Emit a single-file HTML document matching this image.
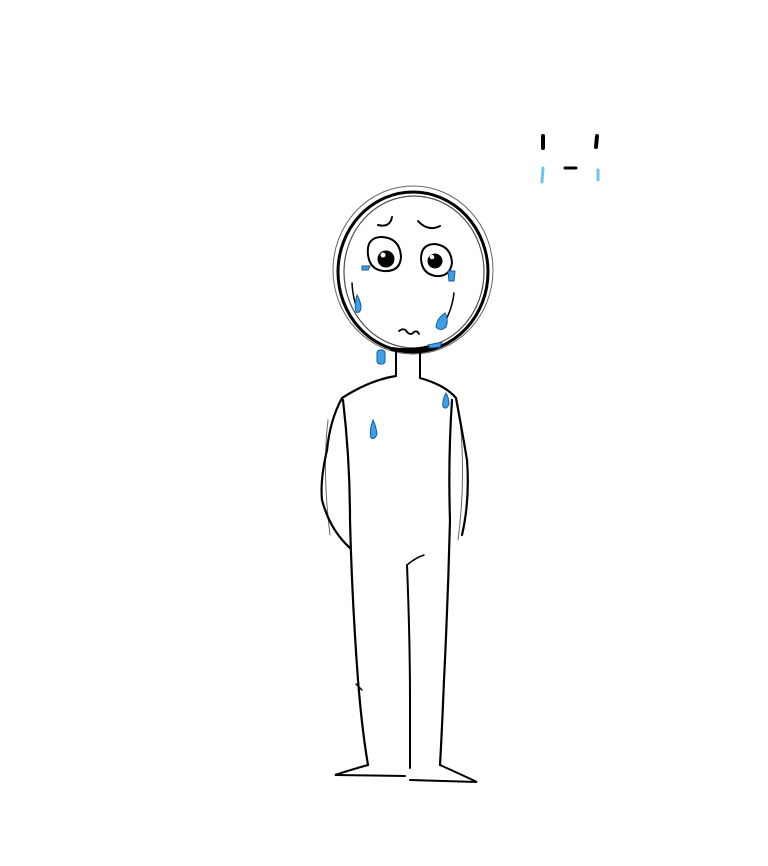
<!DOCTYPE html>
<html><head><meta charset="utf-8"><style>html,body{margin:0;padding:0;background:#fff}svg{display:block}</style></head>
<body>
<svg width="768" height="866" viewBox="0 0 768 866" xmlns="http://www.w3.org/2000/svg">
<rect width="768" height="866" fill="#fff"/>
<g fill="none" stroke="#000" stroke-linecap="round">
<!-- head -->
<ellipse cx="413" cy="272" rx="75" ry="80" stroke-width="3"/>
<ellipse cx="413" cy="270" rx="80" ry="84" stroke-width="1" opacity="0.6"/>
<ellipse cx="414" cy="272" rx="70" ry="76" stroke-width="1.2" opacity="0.7"/>
<!-- brows -->
<path d="M378 225 Q390 228 392 217" stroke-width="2"/>
<path d="M418 221 Q428 232 440 226" stroke-width="2"/>
<!-- eyes -->
<path d="M368 255 Q366 237 382 237 Q400 238 401 257 Q400 272 384 271 Q370 270 368 255" stroke-width="2"/>
<circle cx="386" cy="259" r="8" fill="#000"/><circle cx="383" cy="255" r="2.5" fill="#fff" stroke="none"/>
<path d="M421 259 Q421 244 435 244 Q451 246 452 263 Q450 277 436 276 Q422 274 421 259" stroke-width="2"/>
<circle cx="435" cy="261" r="7" fill="#000"/><circle cx="432" cy="257" r="2.3" fill="#fff" stroke="none"/>
<!-- mouth -->
<path d="M399 331 Q404 327 407 332 Q411 336 414 332 Q417 330 419 334" stroke-width="1.8"/>
<!-- cheek lines -->
<path d="M352 283 Q353 300 358 310" stroke-width="1.5"/>
<path d="M454 293 Q452 310 444 323" stroke-width="1.5"/>
<!-- neck -->
<path d="M396 350 L396 376" stroke-width="2"/>
<path d="M420 350 L420 378" stroke-width="2"/>
<path d="M392 349 Q410 352 430 347" stroke-width="4"/>
<!-- body -->
<path d="M396 376 Q370 380 342 398 Q330 420 327 450 Q320 480 322 500 Q330 530 350 548" stroke-width="2.2"/>
<path d="M420 378 Q445 385 456 398 Q462 430 467 460 Q470 500 462 535" stroke-width="2.2"/>
<path d="M343 400 Q350 460 350 520 Q352 600 358 680 Q362 730 368 765" stroke-width="2.2"/>
<path d="M452 400 Q448 460 450 520 Q448 600 444 680 Q442 730 440 765" stroke-width="2.2"/>
<path d="M407 565 Q410 640 410 700 Q410 740 410 768" stroke-width="2"/>
<path d="M407 565 Q415 558 424 555" stroke-width="1.5"/>
<path d="M368 765 Q350 770 335 775 L405 776" stroke-width="2"/>
<path d="M440 765 Q460 774 477 782 L410 780" stroke-width="2"/>
<path d="M356 684 L362 690" stroke-width="1.5"/>
<path d="M328 420 Q322 470 330 535" stroke-width="1" opacity="0.6"/>
<path d="M460 420 Q466 480 458 540" stroke-width="1" opacity="0.6"/>
<!-- small face top right -->
<path d="M543 136 L543 148" stroke-width="4"/>
<path d="M597 136 L596 147" stroke-width="4"/>
<path d="M565 168 L576 168" stroke-width="3"/>
</g>
<g fill="#3aa0e8" stroke="#1a5a9a" stroke-width="1">
<path d="M357 295 Q354 305 356 312 Q361 314 361 306 Q360 300 357 295Z"/>
<path d="M445 313 Q437 318 436 327 Q440 332 446 327 Q449 320 445 313Z"/>
<path d="M362 266 L370 266 L368 270 L362 270Z"/>
<path d="M448 271 L455 271 L454 281 L449 281Z"/>
<rect x="377" y="350" width="8" height="14" rx="3"/>
<path d="M428 345 L442 342 L440 347 L430 348Z"/>
<path d="M446 393 Q442 400 443 407 Q447 410 449 404 Q449 398 446 393Z"/>
<path d="M373 420 Q369 430 371 438 Q375 440 377 434 Q376 426 373 420Z"/>
</g>
<g stroke="#6cc4f5" stroke-width="3" stroke-linecap="round">
<path d="M543 168 L542 182"/><path d="M598 170 L598 180"/>
</g>
</svg>
</body></html>
